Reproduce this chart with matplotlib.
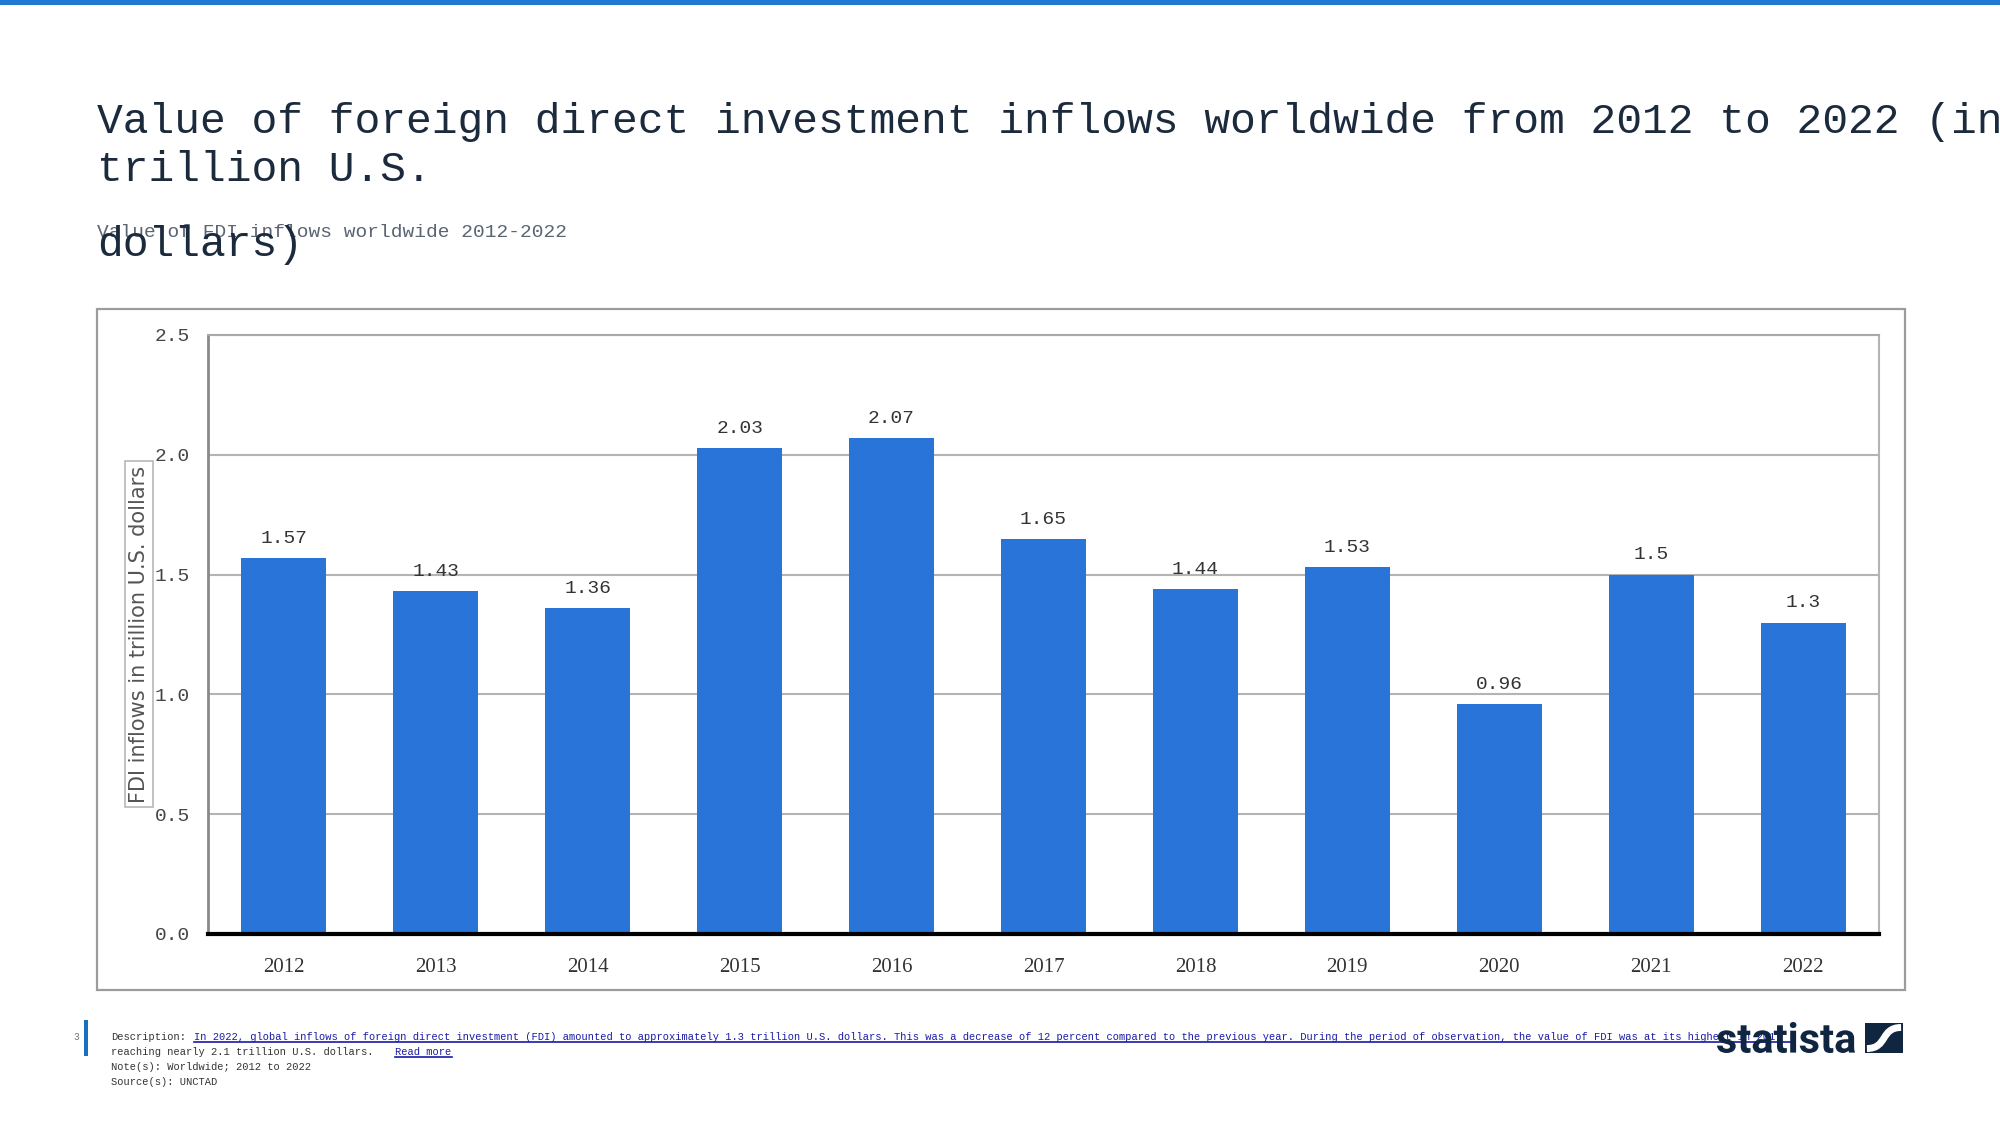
import matplotlib
matplotlib.use("Agg")
import matplotlib.pyplot as plt
from matplotlib.patches import Rectangle, PathPatch
from matplotlib.lines import Line2D
from matplotlib.path import Path
from matplotlib.textpath import TextPath
from matplotlib.font_manager import FontProperties
from matplotlib.transforms import Affine2D

# Daten
years = ["2012", "2013", "2014", "2015", "2016", "2017", "2018", "2019", "2020", "2021", "2022"]
fdi_inflows = [1.57, 1.43, 1.36, 2.03, 2.07, 1.65, 1.44, 1.53, 0.96, 1.5, 1.3]
value_labels = ["1.57", "1.43", "1.36", "2.03", "2.07", "1.65", "1.44", "1.53", "0.96", "1.5", "1.3"]
y_ticks = [0.0, 0.5, 1.0, 1.5, 2.0, 2.5]
y_tick_labels = ["0.0", "0.5", "1.0", "1.5", "2.0", "2.5"]

title_lines = ["Value of foreign direct investment inflows worldwide from 2012 to 2022 (in",
               "trillion U.S.", "dollars)"]
subtitle = "Value of FDI inflows worldwide 2012-2022"
y_label = "FDI inflows in trillion U.S. dollars"
desc_link = ("In 2022, global inflows of foreign direct investment (FDI) amounted to approximately "
             "1.3 trillion U.S. dollars. This was a decrease of 12 percent compared to the previous "
             "year. During the period of observation, the value of FDI was at its highest in 201")
desc_line2 = "reaching nearly 2.1 trillion U.S. dollars."
note = "Note(s): Worldwide; 2012 to 2022"
source = "Source(s): UNCTAD"

MONO = "Liberation Mono"
W, H = 2000, 1125
BAR_COLOR = "#2874d9"
NAVY = "#1b2a3c"


def fx(px):
    return px / W


def fy(py):
    # Pixel von oben -> Figurkoordinate
    return 1 - py / H


fig = plt.figure(figsize=(20, 11.25), dpi=100)
fig.patch.set_facecolor("white")

# blaue Linie oben
fig.add_artist(Rectangle((0, fy(5)), 1, 5 / H, transform=fig.transFigure,
                         fc="#1f78d1", ec="none"))

# Titel
fig.text(fx(97), fy(133), title_lines[0], fontsize=31, family=MONO, color=NAVY, va="baseline")
fig.text(fx(97), fy(181), title_lines[1], fontsize=31, family=MONO, color=NAVY, va="baseline")
fig.text(fx(97), fy(237), subtitle, fontsize=14, family=MONO, color="#5a6472", va="baseline")
fig.text(fx(97), fy(256), title_lines[2], fontsize=31, family=MONO, color=NAVY, va="baseline")

# äußerer Rahmen
fig.add_artist(Rectangle((fx(97), fy(990)), fx(1905 - 97), (990 - 309) / H,
                         transform=fig.transFigure, fc="none", ec="#9c9c9c", lw=1.6))

ax = fig.add_axes([fx(208), fy(934), fx(1879 - 208), (934 - 335) / H])
x = list(range(len(years)))
bars = ax.bar(x, fdi_inflows, width=0.56, color=BAR_COLOR, zorder=3)

for rect, lab in zip(bars, value_labels):
    ax.annotate(lab, (rect.get_x() + rect.get_width() / 2, rect.get_height()),
                xytext=(0, 8), textcoords="offset points", ha="center", va="bottom",
                fontsize=14, family=MONO, color="#333333", zorder=4)

ax.set_xlim(-0.5, len(years) - 0.5)
ax.set_ylim(0, 2.5)
ax.set_yticks(y_ticks)
ax.set_yticklabels(y_tick_labels, family=MONO, fontsize=14, color="#444444")
ax.set_xticks(x)
ax.set_xticklabels(years, family="Liberation Serif", fontsize=15, color="#333333")
ax.tick_params(axis="both", length=0)
ax.tick_params(axis="y", pad=13)
ax.tick_params(axis="x", pad=17)
ax.grid(axis="y", color="#b4b4b4", lw=1.5, zorder=0)
ax.spines["left"].set_color("#8a8a8a")
ax.spines["left"].set_linewidth(2)
ax.spines["top"].set_color("#a8a8a8")
ax.spines["top"].set_linewidth(1.5)
ax.spines["right"].set_color("#b4b4b4")
ax.spines["right"].set_linewidth(1.5)
ax.spines["bottom"].set_color("#000000")
ax.spines["bottom"].set_linewidth(3)
ax.spines["bottom"].set_zorder(5)

# y-Achsenbeschriftung mit Rahmen
fig.text(fx(139), fy(634), y_label, rotation=90, ha="center", va="center",
         fontsize=15, family="DejaVu Sans", color="#555555",
         bbox=dict(boxstyle="square,pad=0.2", fc="none", ec="#b8b8b8", lw=1.2))

# Fußzeile
fig.add_artist(Rectangle((fx(84), fy(1056)), 4 / W, 36 / H, transform=fig.transFigure,
                         fc="#1a6fc0", ec="none"))
fig.text(fx(73), fy(1040), "3", fontsize=7, family=MONO, color="#777777", va="baseline")

fs = 7.5
t_desc = fig.text(fx(111), fy(1040), "Description:", fontsize=fs, family=MONO,
                  color="#333333", va="baseline")
t_l2 = fig.text(fx(111), fy(1055), desc_line2, fontsize=fs, family=MONO,
                color="#333333", va="baseline")
fig.text(fx(111), fy(1070), note, fontsize=fs, family=MONO, color="#333333", va="baseline")
fig.text(fx(111), fy(1085), source, fontsize=fs, family=MONO, color="#333333", va="baseline")

fig.canvas.draw()
r = fig.canvas.get_renderer()
bb = t_desc.get_window_extent(r)
cw = bb.width / len("Description:")
t_link = fig.text((bb.x1 + 1.3 * cw) / W, fy(1040), desc_link, fontsize=fs, family=MONO,
                  color="#1a1aa8", va="baseline")
bb2 = t_l2.get_window_extent(r)
t_more = fig.text((bb2.x1 + 3.5 * cw) / W, fy(1055), "Read more", fontsize=fs, family=MONO,
                  color="#1a1aa8", va="baseline")
fig.canvas.draw()
for t, y_px in [(t_link, 1042), (t_more, 1057)]:
    b = t.get_window_extent(r)
    fig.add_artist(Line2D([b.x0 / W, b.x1 / W + 0.01 * (t is t_link)], [fy(y_px), fy(y_px)],
                          transform=fig.transFigure, color="#1a1aa8", lw=1.2))

# statista Logo
tp = TextPath((0, 0), "statista", size=100, prop=FontProperties(family="Roboto", weight="bold"))
ext = tp.get_extents()
tr = (Affine2D().translate(-ext.x0, -ext.y0)
      .scale(138 / ext.width, 31 / ext.height).translate(1717, H - 1053))
fig.add_artist(PathPatch(tp, transform=tr, fc="#0f2540", ec="none", zorder=10))

ix0, iy0, iw, ih = 1865, H - 1053, 38, 30
fig.add_artist(Rectangle((fx(ix0), iy0 / H), iw / W, ih / H, transform=fig.transFigure,
                         fc="#0f2540", ec="none", zorder=10))
curve = Path([(ix0 + 0.05 * iw, iy0 + 0.15 * ih), (ix0 + 0.6 * iw, iy0 + 0.15 * ih),
              (ix0 + 0.4 * iw, iy0 + 0.85 * ih), (ix0 + 0.95 * iw, iy0 + 0.85 * ih)],
             [Path.MOVETO, Path.CURVE4, Path.CURVE4, Path.CURVE4])
fig.add_artist(PathPatch(curve, transform=Affine2D(), fc="none", ec="white", lw=5, zorder=11))

fig.savefig("out.png", dpi=100)
